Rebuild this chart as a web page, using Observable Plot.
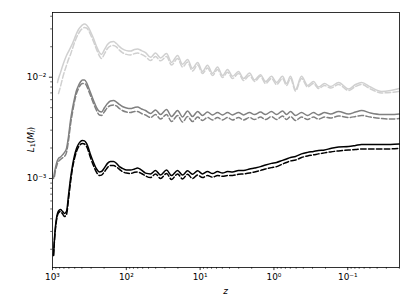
<!DOCTYPE html>
<html><head><meta charset="utf-8">
<script src="https://cdn.jsdelivr.net/npm/d3@7"></script>
<script src="https://cdn.jsdelivr.net/npm/@observablehq/plot@0.6"></script>
<style>
html,body{margin:0;padding:0;background:#fff;}
#chart svg{display:block;}
</style></head><body><div id="chart"></div>
<script>
// redshift grid (shared by all curves)
const zValues = [969, 940, 911, 883, 856, 829, 779, 732, 688, 646,
 607, 570, 536, 503, 473, 444, 418, 392, 369, 346,
 325, 306, 278, 253, 231, 217, 197, 180, 164, 149,
 136, 124, 113, 99.4, 87.7, 77.4, 70.5, 62.2, 54.9, 47.0,
 40.2, 34.4, 28.5, 24.4, 20.2, 17.3, 14.8, 12.7, 10.8, 9.28,
 7.94, 6.79, 5.81, 4.97, 4.25, 3.64, 3.02, 2.58, 2.14, 1.83,
 1.52, 1.30, 1.08, 0.922, 0.765, 0.675, 0.596, 0.510, 0.423, 0.350,
 0.291, 0.249, 0.206, 0.171, 0.133, 0.0975, 0.0784, 0.0650, 0.0491, 0.0348,
 0.0263, 0.0200];

const lightSolid = [null, null, null, null, 0.00887, 0.00971, 0.0111, 0.0128, 0.0146, 0.0164,
 0.0179, 0.0196, 0.0215, 0.0241, 0.0270, 0.0296, 0.0313, 0.0328, 0.0335, 0.0328,
 0.0309, 0.0283, 0.0241, 0.0201, 0.0175, 0.0168, 0.0188, 0.0210, 0.0223, 0.0225,
 0.0215, 0.0201, 0.0190, 0.0183, 0.0181, 0.0188, 0.0190, 0.0183, 0.0175, 0.0157,
 0.0173, 0.0155, 0.0171, 0.0140, 0.0164, 0.0134, 0.0150, 0.0122, 0.0140, 0.0114,
 0.0131, 0.0109, 0.0126, 0.0104, 0.0119, 0.0102, 0.0114, 0.00971, 0.0110, 0.00939,
 0.0106, 0.00907, 0.0102, 0.00887, 0.0102, 0.00867, 0.0102, 0.00756, 0.0102, 0.00828,
 0.00907, 0.00800, 0.00867, 0.00810, 0.00887, 0.00765, 0.00847, 0.00887, 0.00800, 0.00723,
 0.00739, 0.00774];

const lightDashed = [null, null, null, null, null, 0.00691, 0.00810, 0.00971, 0.0114, 0.0131,
 0.0150, 0.0168, 0.0192, 0.0220, 0.0247, 0.0270, 0.0289, 0.0302, 0.0309, 0.0306,
 0.0289, 0.0264, 0.0225, 0.0188, 0.0162, 0.0153, 0.0171, 0.0192, 0.0203, 0.0206,
 0.0199, 0.0185, 0.0175, 0.0168, 0.0166, 0.0171, 0.0173, 0.0168, 0.0160, 0.0146,
 0.0160, 0.0145, 0.0160, 0.0132, 0.0153, 0.0126, 0.0141, 0.0115, 0.0132, 0.0109,
 0.0123, 0.0104, 0.0119, 0.00993, 0.0112, 0.00971, 0.0109, 0.00928, 0.0104, 0.00907,
 0.0102, 0.00867, 0.00971, 0.00847, 0.00971, 0.00828, 0.00971, 0.00731, 0.00971, 0.00800,
 0.00867, 0.00774, 0.00828, 0.00782, 0.00847, 0.00739, 0.00810, 0.00847, 0.00765, 0.00699,
 0.00707, 0.00723];

const graySolid = [0.00100, 0.00115, 0.00128, 0.00141, 0.00151, 0.00158, 0.00163, 0.00171, 0.00181, 0.00198,
 0.00259, 0.00374, 0.00491, 0.00616, 0.00739, 0.00828, 0.00897, 0.00939, 0.00939, 0.00887,
 0.00791, 0.00707, 0.00589, 0.00502, 0.00459, 0.00453, 0.00502, 0.00550, 0.00583, 0.00589,
 0.00569, 0.00538, 0.00514, 0.00497, 0.00491, 0.00502, 0.00508, 0.00486, 0.00469, 0.00438,
 0.00474, 0.00428, 0.00480, 0.00409, 0.00469, 0.00405, 0.00464, 0.00409, 0.00459, 0.00419,
 0.00453, 0.00424, 0.00448, 0.00424, 0.00448, 0.00424, 0.00448, 0.00424, 0.00448, 0.00428,
 0.00453, 0.00428, 0.00459, 0.00428, 0.00464, 0.00428, 0.00459, 0.00419, 0.00448, 0.00419,
 0.00448, 0.00424, 0.00448, 0.00433, 0.00459, 0.00433, 0.00453, 0.00469, 0.00443, 0.00428,
 0.00428, 0.00433];

const grayDashed = [null, 0.00105, 0.00120, 0.00131, 0.00141, 0.00147, 0.00154, 0.00160, 0.00165, 0.00181,
 0.00237, 0.00341, 0.00448, 0.00576, 0.00691, 0.00774, 0.00838, 0.00867, 0.00867, 0.00828,
 0.00739, 0.00660, 0.00550, 0.00469, 0.00423, 0.00419, 0.00459, 0.00502, 0.00526, 0.00532,
 0.00520, 0.00491, 0.00469, 0.00453, 0.00448, 0.00459, 0.00459, 0.00438, 0.00423, 0.00400,
 0.00428, 0.00386, 0.00428, 0.00365, 0.00419, 0.00361, 0.00409, 0.00365, 0.00404, 0.00374,
 0.00400, 0.00378, 0.00400, 0.00378, 0.00400, 0.00378, 0.00400, 0.00378, 0.00400, 0.00382,
 0.00404, 0.00382, 0.00409, 0.00382, 0.00414, 0.00382, 0.00409, 0.00374, 0.00404, 0.00382,
 0.00404, 0.00386, 0.00404, 0.00395, 0.00414, 0.00400, 0.00409, 0.00419, 0.00404, 0.00391,
 0.00386, 0.00391];

const blackSolid = [0.000174, 0.000256, 0.000336, 0.000404, 0.000452, 0.000478, 0.000495, 0.000473, 0.000452, 0.000473,
 0.000680, 0.00100, 0.00134, 0.00169, 0.00198, 0.00219, 0.00232, 0.00237, 0.00235, 0.00222,
 0.00198, 0.00173, 0.00144, 0.00124, 0.00116, 0.00117, 0.00128, 0.00141, 0.00147, 0.00147,
 0.00141, 0.00131, 0.00126, 0.00121, 0.00121, 0.00124, 0.00127, 0.00121, 0.00113, 0.00111,
 0.00120, 0.00108, 0.00121, 0.00107, 0.00120, 0.00108, 0.00119, 0.00110, 0.00119, 0.00111,
 0.00117, 0.00112, 0.00117, 0.00113, 0.00117, 0.00116, 0.00120, 0.00120, 0.00124, 0.00127,
 0.00131, 0.00136, 0.00141, 0.00144, 0.00151, 0.00156, 0.00161, 0.00165, 0.00175, 0.00181,
 0.00185, 0.00189, 0.00191, 0.00198, 0.00205, 0.00207, 0.00212, 0.00217, 0.00217, 0.00217,
 0.00217, 0.00219];

const blackDashed = [0.000174, 0.000245, 0.000321, 0.000386, 0.000432, 0.000457, 0.000473, 0.000447, 0.000422, 0.000442,
 0.000620, 0.000914, 0.00126, 0.00158, 0.00185, 0.00205, 0.00217, 0.00222, 0.00219, 0.00207,
 0.00185, 0.00161, 0.00134, 0.00115, 0.00107, 0.00108, 0.00117, 0.00128, 0.00134, 0.00134,
 0.00130, 0.00123, 0.00117, 0.00113, 0.00112, 0.00115, 0.00116, 0.00112, 0.00106, 0.00102,
 0.00111, 0.00100, 0.00112, 0.000978, 0.00111, 0.000989, 0.00110, 0.00100, 0.00108, 0.00102,
 0.00107, 0.00103, 0.00107, 0.00105, 0.00107, 0.00107, 0.00110, 0.00111, 0.00113, 0.00116,
 0.00120, 0.00124, 0.00128, 0.00131, 0.00139, 0.00144, 0.00149, 0.00152, 0.00161, 0.00167,
 0.00171, 0.00175, 0.00179, 0.00183, 0.00187, 0.00191, 0.00193, 0.00196, 0.00196, 0.00196,
 0.00196, 0.00198];

const xMajorTicks = [1000, 100, 10, 1, 0.1];
const xMajorLabels = ["10³", "10²", "10¹", "10⁰", "10⁻¹"];
const xMinorTicks = [900, 800, 700, 600, 500, 400, 300, 200,
  90, 80, 70, 60, 50, 40, 30, 20,
  9, 8, 7, 6, 5, 4, 3, 2,
  0.9, 0.8, 0.7, 0.6, 0.5, 0.4, 0.3, 0.2,
  0.09, 0.08, 0.07, 0.06, 0.05, 0.04, 0.03, 0.02];
const yMajorTicks = [0.001, 0.01];
const yMajorLabels = ["10⁻³", "10⁻²"];
const yMinorTicks = [0.0002, 0.0003, 0.0004, 0.0005, 0.0006, 0.0007, 0.0008, 0.0009,
  0.002, 0.003, 0.004, 0.005, 0.006, 0.007, 0.008, 0.009,
  0.02, 0.03, 0.04];

const seriesDefs = [
  {values: lightSolid, color: "#d0d0d0", dash: null},
  {values: lightDashed, color: "#d0d0d0", dash: "5.5,2.4"},
  {values: graySolid, color: "#808080", dash: null},
  {values: grayDashed, color: "#808080", dash: "5.5,2.4"},
  {values: blackSolid, color: "#000000", dash: null},
  {values: blackDashed, color: "#000000", dash: "5.5,2.4"}
];

const lineMarks = seriesDefs.map(s => Plot.line(
  zValues.map((z, i) => ({z, L: s.values[i]})).filter(d => d.L != null),
  {x: "z", y: "L", stroke: s.color, strokeWidth: 1.5, strokeDasharray: s.dash, curve: "monotone-x"}
));

const chart = Plot.plot({
  width: 411, height: 308,
  marginLeft: 52, marginRight: 12, marginTop: 12, marginBottom: 41,
  style: {fontFamily: "'DejaVu Sans', sans-serif", fontSize: "8.9px", background: "white", color: "black", overflow: "visible"},
  x: {type: "log", domain: [1000, 0.0199]},
  y: {type: "log", domain: [1.321e-4, 0.04355]},
  marks: [
    ...lineMarks,
    Plot.axisX({ticks: xMinorTicks, tickSize: 1.8, strokeWidth: 0.6, fill: "none", label: null}),
    Plot.axisY({ticks: yMinorTicks, tickSize: 1.8, strokeWidth: 0.6, fill: "none", label: null}),
    Plot.axisX({ticks: xMajorTicks, tickSize: 3.1, tickPadding: 3, strokeWidth: 0.8, label: null,
      tickFormat: d => xMajorLabels[xMajorTicks.indexOf(d)]}),
    Plot.axisY({ticks: yMajorTicks, tickSize: 3.1, tickPadding: 3, strokeWidth: 0.8, label: null,
      tickFormat: d => yMajorLabels[yMajorTicks.indexOf(d)]}),
    Plot.frame({stroke: "black", strokeWidth: 0.8})
  ]
});

const svg = d3.select(chart);
// x-axis label
svg.append("text")
  .attr("x", 225.5).attr("y", 293.5)
  .attr("text-anchor", "middle")
  .attr("font-style", "italic")
  .attr("fill", "black")
  .text("z");
// y-axis label L_1(M_l)
const yl = svg.append("text")
  .attr("transform", "translate(33.5,139.5) rotate(-90)")
  .attr("text-anchor", "middle")
  .attr("fill", "black");
yl.append("tspan").attr("font-style", "italic").text("L");
yl.append("tspan").attr("font-size", "6.3px").attr("dy", "1.8").text("1");
yl.append("tspan").attr("dy", "-1.8").text("(");
yl.append("tspan").attr("font-style", "italic").text("M");
yl.append("tspan").attr("font-size", "6.3px").attr("font-style", "italic").attr("dy", "1.8").text("l");
yl.append("tspan").attr("dy", "-1.8").text(")");

document.getElementById("chart").appendChild(chart);
</script>
</body></html>
